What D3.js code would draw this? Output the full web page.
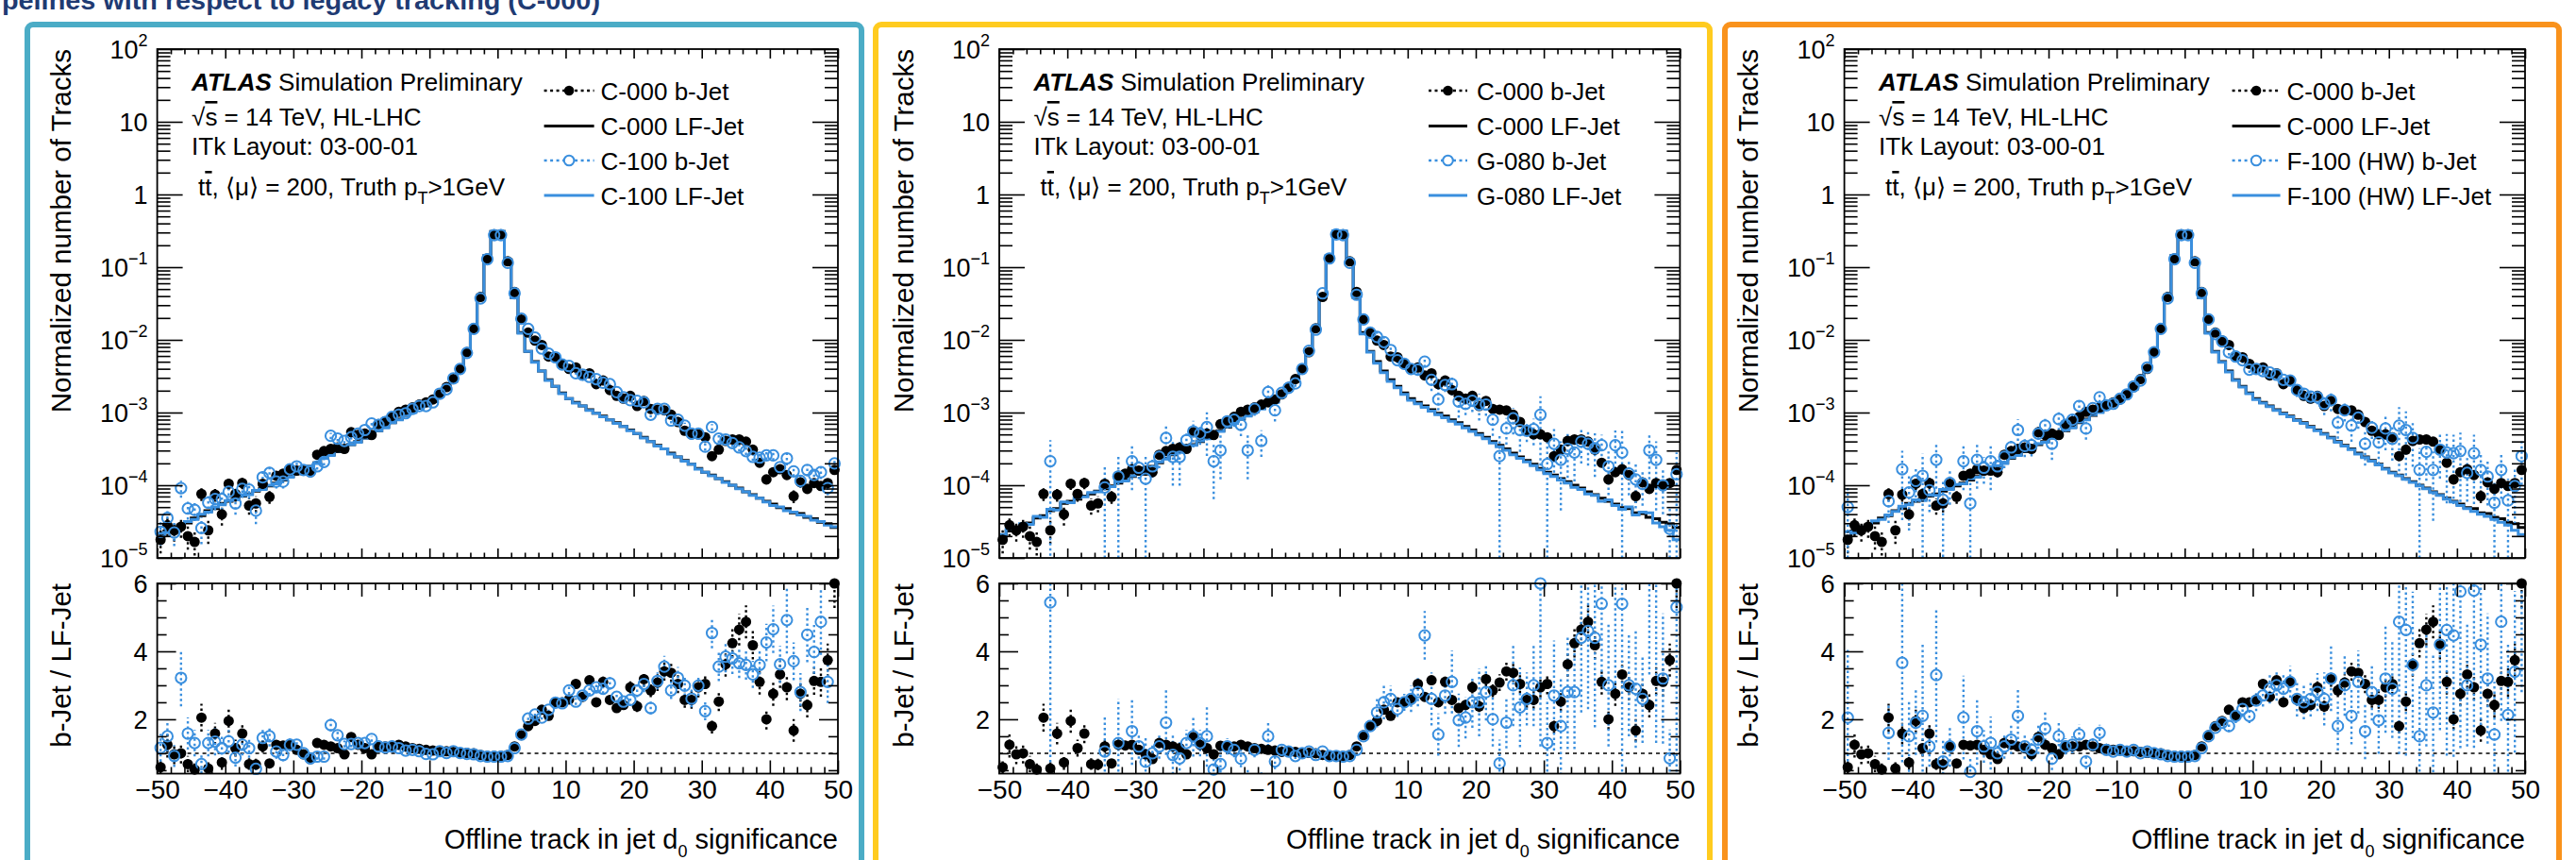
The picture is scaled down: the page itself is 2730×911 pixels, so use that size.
<!DOCTYPE html>
<html><head><meta charset="utf-8">
<script src="https://cdn.jsdelivr.net/npm/d3@7"></script>
<style>
body{margin:0;background:#fff;overflow:hidden;}
text{font-family:"Liberation Sans",Arial,Helvetica,sans-serif;fill:#000;}
</style></head>
<body><svg id="chart" width="2730" height="911"></svg>
<script>
// ---------------- DATA ----------------
const binCentres = d3.range(-49.5, 50, 1);      // 100 bins of width 1, -50..50
const binLowEdges = d3.range(-50, 50, 1);
const xTickValues = [-50,-40,-30,-20,-10,0,10,20,30,40,50];
const upperTickLabels = [
  {v:1e2, base:"10", exp:"2"}, {v:1e1, base:"10", exp:""}, {v:1, base:"1", exp:""},
  {v:1e-1, base:"10", exp:"\u22121"}, {v:1e-2, base:"10", exp:"\u22122"}, {v:1e-3, base:"10", exp:"\u22123"},
  {v:1e-4, base:"10", exp:"\u22124"}, {v:1e-5, base:"10", exp:"\u22125"}];
const ratioTickLabels = [2, 4, 6];
const pipelineNames = ["C-100", "G-080", "F-100 (HW)"];

// log10 of normalized number of tracks
const c000_LF_log10 = [
-4.70,-4.63,-4.61,-4.55,-4.52,-4.45,-4.42,-4.35,-4.32,-4.25,
-4.22,-4.19,-4.15,-4.12,-4.08,-4.05,-4.01,-3.97,-3.93,-3.88,
-3.84,-3.79,-3.74,-3.69,-3.63,-3.58,-3.54,-3.49,-3.44,-3.40,
-3.35,-3.30,-3.25,-3.20,-3.14,-3.09,-3.04,-2.99,-2.94,-2.90,
-2.85,-2.77,-2.68,-2.56,-2.40,-2.17,-1.84,-1.39,-0.84,-0.51,
-0.51,-0.90,-1.42,-1.90,-2.16,-2.30,-2.43,-2.55,-2.64,-2.73,
-2.81,-2.86,-2.91,-2.96,-3.01,-3.05,-3.10,-3.14,-3.19,-3.24,
-3.29,-3.34,-3.40,-3.45,-3.50,-3.56,-3.61,-3.66,-3.71,-3.77,
-3.82,-3.86,-3.91,-3.95,-4.00,-4.04,-4.09,-4.13,-4.18,-4.22,
-4.26,-4.31,-4.32,-4.38,-4.39,-4.44,-4.46,-4.51,-4.53,-4.58];
const c000_b_log10 = [
-4.75,-4.55,-4.62,-4.57,-4.70,-4.78,-4.12,-4.62,-4.13,-4.40,
-3.98,-4.12,-3.97,-4.28,-4.25,-3.98,-4.16,-3.87,-3.84,-3.78,
-3.80,-3.80,-3.82,-3.58,-3.53,-3.50,-3.48,-3.50,-3.27,-3.31,
-3.29,-3.31,-3.16,-3.12,-3.06,-2.99,-2.96,-2.93,-2.89,-2.86,
-2.82,-2.75,-2.65,-2.54,-2.40,-2.17,-1.84,-1.41,-0.88,-0.55,
-0.55,-0.92,-1.34,-1.72,-1.90,-2.01,-2.07,-2.23,-2.24,-2.33,
-2.40,-2.38,-2.49,-2.46,-2.61,-2.56,-2.69,-2.77,-2.81,-2.77,
-2.91,-2.84,-2.95,-2.96,-2.97,-3.03,-3.13,-3.25,-3.30,-3.30,
-3.34,-3.60,-3.51,-3.39,-3.37,-3.37,-3.40,-3.51,-3.69,-3.92,
-3.82,-3.78,-3.86,-4.15,-3.96,-4.05,-3.97,-4.01,-3.97,-3.79];
const c000_ratio = [
0.59,1.25,0.97,1.00,0.68,0.52,2.05,0.55,1.58,0.73,
1.95,1.15,1.58,0.68,0.67,1.20,0.70,1.25,1.23,1.25,
1.10,0.97,0.83,1.30,1.25,1.20,1.15,0.97,1.48,1.25,
1.15,0.97,1.22,1.20,1.20,1.25,1.20,1.15,1.13,1.10,
1.08,1.04,1.06,1.04,1.01,1.01,1.00,0.95,0.92,0.92,
0.92,0.95,1.20,1.53,1.80,1.95,2.28,2.10,2.50,2.50,
2.58,3.04,2.66,3.15,2.50,3.10,2.57,2.33,2.42,2.94,
2.38,3.18,2.85,3.08,3.41,3.37,3.04,2.57,2.57,2.94,
3.04,1.80,2.52,3.62,4.24,4.64,4.87,4.18,3.10,2.00,
2.75,3.32,2.94,1.67,2.75,2.42,3.13,3.10,3.74,6.00];
const c000_relErr = [
0.35,0.30,0.30,0.30,0.35,0.35,0.20,0.35,0.20,0.30,
0.18,0.22,0.18,0.25,0.25,0.15,0.20,0.12,0.12,0.12,
0.10,0.10,0.10,0.08,0.08,0.07,0.07,0.07,0.06,0.06,
0.05,0.05,0.05,0.04,0.04,0.04,0.03,0.03,0.03,0.03,
0.02,0.02,0.02,0.02,0.01,0.01,0.01,0.01,0.01,0.01,
0.01,0.01,0.01,0.02,0.02,0.02,0.03,0.03,0.03,0.03,
0.04,0.04,0.04,0.04,0.05,0.05,0.05,0.06,0.06,0.06,
0.07,0.07,0.07,0.08,0.08,0.08,0.09,0.09,0.10,0.10,
0.10,0.12,0.11,0.10,0.10,0.10,0.10,0.10,0.12,0.15,
0.13,0.12,0.13,0.20,0.14,0.15,0.13,0.14,0.13,0.12];

const c100_LF_log10 = [
-4.66,-4.65,-4.58,-4.56,-4.50,-4.47,-4.40,-4.37,-4.30,-4.27,
-4.21,-4.20,-4.14,-4.13,-4.07,-4.06,-4.00,-3.98,-3.92,-3.89,
-3.83,-3.80,-3.74,-3.70,-3.63,-3.59,-3.53,-3.50,-3.44,-3.41,
-3.35,-3.31,-3.25,-3.21,-3.14,-3.10,-3.04,-3.00,-2.94,-2.91,
-2.85,-2.78,-2.68,-2.57,-2.40,-2.18,-1.84,-1.40,-0.84,-0.51,
-0.51,-0.90,-1.42,-1.91,-2.16,-2.31,-2.43,-2.56,-2.64,-2.74,
-2.81,-2.87,-2.91,-2.97,-3.01,-3.06,-3.10,-3.15,-3.19,-3.25,
-3.29,-3.35,-3.40,-3.46,-3.50,-3.57,-3.61,-3.67,-3.71,-3.78,
-3.82,-3.87,-3.91,-3.96,-4.00,-4.05,-4.09,-4.14,-4.18,-4.23,
-4.28,-4.30,-4.35,-4.37,-4.41,-4.43,-4.48,-4.50,-4.55,-4.57];
const c100_b_log10 = [
-4.64,-4.45,-4.65,-4.04,-4.32,-4.34,-4.59,-4.24,-4.19,-4.19,
-4.09,-4.25,-4.05,-4.06,-4.35,-3.89,-3.83,-3.95,-3.95,-3.78,
-3.74,-3.79,-3.81,-3.74,-3.68,-3.32,-3.36,-3.39,-3.34,-3.29,
-3.24,-3.15,-3.17,-3.13,-3.06,-3.03,-3.01,-2.95,-2.91,-2.91,
-2.86,-2.74,-2.68,-2.53,-2.40,-2.18,-1.85,-1.43,-0.89,-0.56,
-0.56,-0.94,-1.36,-1.71,-1.85,-1.97,-2.12,-2.19,-2.24,-2.34,
-2.36,-2.46,-2.48,-2.51,-2.54,-2.59,-2.61,-2.72,-2.79,-2.83,
-2.84,-2.86,-3.03,-2.95,-2.95,-3.11,-3.10,-3.18,-3.29,-3.29,
-3.47,-3.20,-3.36,-3.37,-3.42,-3.48,-3.53,-3.61,-3.62,-3.59,
-3.59,-3.75,-3.63,-3.81,-3.94,-3.79,-3.86,-3.82,-4.04,-3.70];
const c100_ratio = [
1.16,1.50,0.92,3.22,1.58,1.30,0.68,1.30,1.34,1.15,
1.35,0.87,1.25,1.15,0.54,1.45,1.50,1.05,0.95,1.25,
1.25,1.00,0.85,0.90,0.90,1.83,1.53,1.27,1.27,1.30,
1.30,1.42,1.20,1.17,1.20,1.15,1.08,1.10,1.06,0.98,
0.97,1.06,1.01,1.06,1.01,0.98,0.97,0.92,0.90,0.90,
0.90,0.92,1.15,1.55,2.02,2.14,2.05,2.28,2.49,2.47,
2.85,2.52,2.70,2.85,2.94,2.90,3.06,2.66,2.52,2.57,
2.85,3.04,2.33,3.13,3.55,2.85,3.22,2.99,2.61,2.99,
2.24,4.54,3.55,3.84,3.79,3.65,3.60,3.32,3.60,4.26,
4.65,3.62,4.92,3.71,2.80,4.49,3.98,4.87,3.10,7.50];
const c100_relErr = [
0.35,0.30,0.35,0.26,0.30,0.30,0.40,0.30,0.30,0.30,
0.25,0.30,0.25,0.25,0.35,0.20,0.20,0.20,0.20,0.15,
0.12,0.12,0.12,0.10,0.10,0.10,0.08,0.08,0.07,0.07,
0.06,0.06,0.05,0.05,0.05,0.04,0.04,0.04,0.03,0.03,
0.03,0.02,0.02,0.02,0.02,0.01,0.01,0.01,0.01,0.01,
0.01,0.01,0.01,0.02,0.02,0.02,0.03,0.03,0.03,0.04,
0.04,0.04,0.05,0.05,0.05,0.05,0.06,0.06,0.06,0.07,
0.07,0.08,0.08,0.08,0.09,0.09,0.10,0.10,0.10,0.10,
0.12,0.10,0.12,0.12,0.12,0.12,0.12,0.12,0.12,0.13,
0.15,0.15,0.20,0.15,0.20,0.18,0.20,0.20,0.20,0.15];

const g080_LF_log10 = [
-4.68,-4.60,-4.63,-4.53,-4.54,-4.43,-4.44,-4.33,-4.34,-4.23,
-4.24,-4.17,-4.16,-4.10,-4.09,-4.03,-4.02,-3.95,-3.94,-3.87,
-3.85,-3.78,-3.75,-3.68,-3.64,-3.57,-3.55,-3.48,-3.45,-3.39,
-3.36,-3.29,-3.26,-3.19,-3.15,-3.08,-3.05,-2.98,-2.95,-2.89,
-2.86,-2.76,-2.69,-2.55,-2.41,-2.16,-1.85,-1.38,-0.85,-0.50,
-0.50,-0.91,-1.41,-1.92,-2.17,-2.32,-2.45,-2.57,-2.66,-2.75,
-2.83,-2.88,-2.93,-2.98,-3.03,-3.07,-3.12,-3.16,-3.21,-3.26,
-3.31,-3.36,-3.42,-3.47,-3.52,-3.58,-3.63,-3.68,-3.73,-3.79,
-3.84,-3.88,-3.93,-3.97,-4.03,-4.06,-4.12,-4.14,-4.22,-4.20,
-4.28,-4.33,-4.30,-4.41,-4.37,-4.38,-4.52,-4.57,-4.62,-4.75];
const g080_b_log10 = [
null,null,null,null,null,null,null,-3.67,null,null,
null,null,null,null,null,-4.03,null,-3.88,null,-3.67,
-3.76,-3.91,-3.74,-3.61,-3.35,-3.61,-3.61,-3.38,-3.26,-3.29,
-3.20,-3.67,-3.52,-3.12,-3.10,-3.17,-3.52,-2.95,-3.39,-2.72,
-2.97,-2.73,-2.66,-2.60,-2.40,-2.15,-1.86,-1.36,-0.88,-0.55,
-0.56,-0.94,-1.38,-1.72,-1.90,-1.96,-2.03,-2.14,-2.28,-2.33,
-2.40,-2.41,-2.30,-2.55,-2.82,-2.62,-2.61,-2.85,-2.88,-2.84,
-2.89,-2.89,-3.10,-3.60,-3.22,-3.08,-3.24,-3.25,-3.23,-3.03,
-3.71,-3.43,-3.65,-3.50,-3.55,-3.40,-3.43,-3.49,-3.45,-3.74,
-3.45,-3.55,-3.84,-3.92,-3.98,-3.52,-3.65,-4.00,-4.60,-3.85];
const g080_ratio = [
null,null,null,null,null,null,null,5.44,null,null,
null,null,null,null,null,1.05,null,1.30,null,1.65,
1.20,0.75,1.00,1.20,1.90,0.95,0.85,1.30,1.50,1.30,
1.50,0.52,0.68,1.20,1.10,0.84,0.33,1.10,0.35,1.50,
0.76,1.10,1.05,0.92,1.00,1.05,0.95,1.05,0.92,0.92,
0.90,0.92,1.10,1.50,1.80,2.20,2.50,2.60,2.30,2.50,
2.60,2.80,4.47,2.60,1.55,2.70,3.10,1.97,2.05,2.50,
2.50,2.80,2.00,0.70,1.90,3.00,2.35,2.60,3.00,6.00,
1.30,2.70,1.80,2.80,2.80,4.40,4.60,4.40,5.40,3.00,
6.50,5.40,3.00,2.90,2.60,8.30,6.50,3.20,0.85,5.30];
const g080_relErr = [
0.50,0.50,0.50,0.50,0.60,0.50,0.50,0.95,0.50,0.50,
0.50,0.40,0.50,0.40,0.50,1.00,0.40,1.00,0.40,0.60,
0.30,1.00,0.30,0.30,0.50,0.60,0.60,0.30,0.40,0.30,
0.60,0.70,0.60,0.20,0.20,0.30,0.60,0.20,0.40,0.30,
0.30,0.10,0.10,0.10,0.05,0.03,0.02,0.02,0.01,0.01,
0.01,0.01,0.02,0.03,0.05,0.20,0.20,0.15,0.10,0.10,
0.15,0.15,0.16,0.30,0.40,0.20,0.30,0.40,0.30,0.30,
0.40,0.30,0.40,1.00,0.40,0.40,0.50,0.30,0.40,0.80,
1.00,0.60,0.80,0.60,0.60,0.50,0.50,0.60,0.40,0.60,
0.60,1.00,0.50,0.60,0.50,0.60,0.80,0.60,1.00,1.00];

const f100_LF_log10 = [
-4.64,-4.66,-4.59,-4.57,-4.49,-4.47,-4.41,-4.36,-4.29,-4.27,
-4.20,-4.21,-4.13,-4.14,-4.06,-4.06,-3.99,-3.98,-3.91,-3.89,
-3.83,-3.80,-3.73,-3.70,-3.62,-3.59,-3.53,-3.50,-3.43,-3.41,
-3.34,-3.31,-3.24,-3.21,-3.13,-3.10,-3.03,-3.00,-2.94,-2.91,
-2.85,-2.78,-2.68,-2.57,-2.40,-2.18,-1.84,-1.40,-0.84,-0.51,
-0.51,-0.90,-1.42,-1.91,-2.17,-2.31,-2.44,-2.56,-2.65,-2.74,
-2.82,-2.87,-2.92,-2.97,-3.02,-3.06,-3.11,-3.15,-3.20,-3.25,
-3.30,-3.35,-3.41,-3.46,-3.51,-3.57,-3.62,-3.67,-3.72,-3.78,
-3.83,-3.87,-3.92,-3.96,-4.01,-4.05,-4.10,-4.14,-4.19,-4.23,
-4.28,-4.32,-4.36,-4.40,-4.43,-4.47,-4.51,-4.55,-4.62,-4.68];
const f100_b_log10 = [
-4.30,null,null,null,null,null,-4.22,null,-3.78,-4.10,
-3.94,-3.87,-4.07,-3.65,-4.20,-3.97,null,-3.67,-4.25,-3.65,
-3.76,-3.67,-3.74,-3.61,-3.48,-3.24,-3.46,-3.45,-3.29,-3.18,
-3.43,-3.09,-3.17,-3.10,-2.91,-3.22,-2.94,-2.79,-2.90,-2.88,
-2.81,-2.75,-2.64,-2.56,-2.38,-2.17,-1.85,-1.43,-0.89,-0.56,
-0.56,-0.94,-1.36,-1.72,-1.92,-2.02,-2.17,-2.23,-2.28,-2.41,
-2.40,-2.43,-2.45,-2.48,-2.55,-2.56,-2.69,-2.74,-2.78,-2.79,
-2.88,-2.83,-3.14,-2.97,-3.18,-3.07,-3.43,-3.21,-3.41,-3.22,
-3.36,-3.18,-3.24,-3.35,-3.79,-3.54,-3.79,-3.51,-3.55,-3.56,
-3.53,-3.83,-3.56,-3.79,-3.88,-4.24,-3.79,-4.21,-4.01,-3.60];
const f100_ratio = [
2.05,null,null,null,null,null,1.60,null,3.66,1.50,
1.90,2.10,1.20,3.30,0.76,1.20,null,2.05,0.45,1.65,
1.20,1.30,1.00,1.20,1.40,2.10,1.20,1.10,1.40,1.73,
0.84,1.50,1.20,1.25,1.55,0.76,1.25,1.60,1.10,1.05,
1.10,1.05,1.10,1.00,1.05,1.00,0.97,0.92,0.90,0.90,
0.90,0.92,1.15,1.50,1.75,1.90,1.80,2.10,2.30,2.10,
2.55,2.70,2.90,3.00,2.90,3.10,2.60,2.50,2.60,2.80,
2.60,3.20,1.80,3.00,2.10,3.10,1.65,2.80,1.97,3.20,
2.90,4.87,4.63,3.60,1.50,3.00,2.20,4.20,4.63,4.47,
5.76,3.00,5.79,4.20,3.20,1.55,4.87,2.13,3.40,7.00];
const f100_relErr = [
1.00,0.50,0.50,0.50,0.50,0.60,0.50,0.50,0.80,0.70,
0.50,1.00,0.50,0.60,0.90,0.50,0.90,0.60,1.00,0.60,
0.40,0.60,0.30,0.30,0.30,0.40,0.30,0.30,0.30,0.30,
0.40,0.30,0.20,0.20,0.20,0.30,0.15,0.15,0.10,0.10,
0.08,0.06,0.05,0.04,0.03,0.02,0.02,0.01,0.01,0.01,
0.01,0.01,0.02,0.03,0.05,0.05,0.10,0.10,0.10,0.10,
0.12,0.12,0.15,0.15,0.15,0.15,0.20,0.20,0.20,0.20,
0.30,0.30,0.40,0.30,0.40,0.30,0.50,0.30,0.50,0.50,
0.50,0.80,0.80,0.60,1.00,0.60,0.80,0.60,0.80,0.80,
0.80,0.60,0.80,0.60,0.60,1.00,0.60,1.00,0.70,0.60];

// ---------------- LAYOUT ----------------
const FW = 721.4, U_TOP = 52, U_BOT = 591, L_TOP = 618, L_BOT = 819.5;
const BLUE = "#3a8fde";
const FS = 26, FS_SMALL = 18, FS_TITLE = 29.5, FS_XTITLE = 29, FS_XTICK = 28, FS_YTICK = 27;
const panels = [
  {id:0, color:"#4bacc6", bx:29,   fx:166.6,  legSym:[410,463], legTxt:470,
   lf:c100_LF_log10, b:c100_b_log10, r:c100_ratio, e:c100_relErr},
  {id:1, color:"#ffcb1f", bx:928,  fx:1059,   legSym:[455,496], legTxt:506,
   lf:g080_LF_log10, b:g080_b_log10, r:g080_ratio, e:g080_relErr},
  {id:2, color:"#f9921c", bx:1828, fx:1954.6, legSym:[411,462], legTxt:469,
   lf:f100_LF_log10, b:f100_b_log10, r:f100_ratio, e:f100_relErr}
];

const svg = d3.select("#chart");
const defs = svg.append("defs");

svg.append("text").attr("x", 2).attr("y", 10)
  .attr("font-family", "'Open Sans','Noto Sans',sans-serif").attr("font-weight", 700)
  .attr("font-size", 28).style("fill", "#1f3b73")
  .attr("textLength", 634).attr("lengthAdjust", "spacingAndGlyphs")
  .text("pelines with respect to legacy tracking (C-000)");

function stepPath(logs, x, y) {
  const pts = logs.map((l, i) => [binLowEdges[i], Math.pow(10, l)]);
  pts.push([50, Math.pow(10, logs[logs.length - 1])]);
  return d3.line().x(d => x(d[0])).y(d => y(d[1])).curve(d3.curveStepAfter)(pts);
}

function drawPoints(gClip, gMarks, vals, rel, color, filled, x, y, lo, hi, errLo) {
  const pts = binCentres.map((c, i) => ({c, v: vals[i], e: rel[i]})).filter(d => d.v !== null);
  gClip.selectAll(null).data(pts).join("line")
    .attr("x1", d => x(d.c)).attr("x2", d => x(d.c))
    .attr("y1", d => y(Math.max(d.v * (1 - d.e), errLo)))
    .attr("y2", d => y(d.v * (1 + d.e)))
    .attr("stroke", color).attr("stroke-width", 2.4).attr("stroke-dasharray", "2.5,3");
  gMarks.selectAll(null).data(pts.filter(d => d.v >= lo && d.v <= hi)).join("circle")
    .attr("cx", d => x(d.c)).attr("cy", d => y(d.v))
    .attr("r", filled ? 5.5 : 5.6)
    .attr("fill", filled ? color : "none")
    .attr("stroke", color).attr("stroke-width", filled ? 0 : 2);
}

function tickAxis(g, gen, values, size, tx, ty) {
  const a = g.append("g").attr("transform", `translate(${tx},${ty})`);
  a.call(gen.tickValues(values).tickSize(size).tickFormat(""));
  a.select(".domain").remove();
  a.selectAll("line").attr("stroke", "#000").attr("stroke-width", 1.6);
}

panels.forEach(p => {
  const g = svg.append("g");
  const x = d3.scaleLinear().domain([-50, 50]).range([p.fx, p.fx + FW]);
  const yU = d3.scaleLog().domain([1e-5, 1e2]).range([U_BOT, U_TOP]);
  const yL = d3.scaleLinear().domain([0.4, 6]).range([L_BOT, L_TOP]);

  g.append("rect").attr("x", p.bx).attr("y", 26).attr("width", 884).attr("height", 1000)
    .attr("rx", 6).attr("fill", "none").attr("stroke", p.color).attr("stroke-width", 6);

  defs.append("clipPath").attr("id", "cu" + p.id).append("rect")
    .attr("x", p.fx).attr("y", U_TOP).attr("width", FW).attr("height", U_BOT - U_TOP);
  defs.append("clipPath").attr("id", "cl" + p.id).append("rect")
    .attr("x", p.fx).attr("y", L_TOP).attr("width", FW).attr("height", L_BOT - L_TOP);

  // upper pad
  const gu = g.append("g").attr("clip-path", `url(#cu${p.id})`);
  gu.append("path").attr("d", stepPath(c000_LF_log10, x, yU)).attr("fill", "none")
    .attr("stroke", "#000").attr("stroke-width", 3);
  gu.append("path").attr("d", stepPath(p.lf, x, yU)).attr("fill", "none")
    .attr("stroke", BLUE).attr("stroke-width", 3);
  const gum = g.append("g");
  const toLin = arr => arr.map(v => v === null ? null : Math.pow(10, v));
  drawPoints(gu, gum, toLin(c000_b_log10), c000_relErr, "#000", true, x, yU, 1e-5, 1e2, 1e-7);
  drawPoints(gu, gum, toLin(p.b), p.e, BLUE, false, x, yU, 1e-5, 1e2, 1e-7);

  // lower pad
  const gl = g.append("g").attr("clip-path", `url(#cl${p.id})`);
  gl.append("line").attr("x1", x(-50)).attr("x2", x(50)).attr("y1", yL(1)).attr("y2", yL(1))
    .attr("stroke", "#000").attr("stroke-width", 1.5).attr("stroke-dasharray", "4,4");
  const glm = g.append("g");
  drawPoints(gl, glm, c000_ratio, c000_relErr, "#000", true, x, yL, 0.4, 6.05, -1);
  drawPoints(gl, glm, p.r, p.e, BLUE, false, x, yL, 0.4, 6.05, -1);

  // frames
  [[U_TOP, U_BOT], [L_TOP, L_BOT]].forEach(([t, b]) => {
    g.append("rect").attr("x", p.fx).attr("y", t).attr("width", FW).attr("height", b - t)
      .attr("fill", "none").attr("stroke", "#000").attr("stroke-width", 1.8);
  });

  // x ticks
  const xMinor = d3.range(-50, 51, 2).filter(v => v % 10 !== 0);
  tickAxis(g, d3.axisTop(x), xTickValues, 10, 0, U_BOT);
  tickAxis(g, d3.axisTop(x), xMinor, 5.5, 0, U_BOT);
  tickAxis(g, d3.axisBottom(x), xTickValues, 10, 0, U_TOP);
  tickAxis(g, d3.axisBottom(x), xMinor, 5.5, 0, U_TOP);
  tickAxis(g, d3.axisTop(x), xTickValues, 14, 0, L_BOT);
  tickAxis(g, d3.axisTop(x), xMinor, 7, 0, L_BOT);
  tickAxis(g, d3.axisBottom(x), xTickValues, 14, 0, L_TOP);
  tickAxis(g, d3.axisBottom(x), xMinor, 7, 0, L_TOP);

  // y ticks upper
  const yMajor = upperTickLabels.map(d => d.v);
  const yMinor = [];
  for (let d = -5; d < 2; d++) for (let k = 2; k <= 9; k++) yMinor.push(k * Math.pow(10, d));
  tickAxis(g, d3.axisRight(yU), yMajor, 27, p.fx, 0);
  tickAxis(g, d3.axisRight(yU), yMinor, 14, p.fx, 0);
  tickAxis(g, d3.axisLeft(yU), yMajor, 27, p.fx + FW, 0);
  tickAxis(g, d3.axisLeft(yU), yMinor, 14, p.fx + FW, 0);
  // y ticks lower
  const rMinor = d3.range(0.5, 6.01, 0.5).filter(v => ratioTickLabels.indexOf(v) < 0);
  tickAxis(g, d3.axisRight(yL), ratioTickLabels, 20, p.fx, 0);
  tickAxis(g, d3.axisRight(yL), rMinor, 10, p.fx, 0);
  tickAxis(g, d3.axisLeft(yL), ratioTickLabels, 20, p.fx + FW, 0);
  tickAxis(g, d3.axisLeft(yL), rMinor, 10, p.fx + FW, 0);

  // y tick labels upper
  upperTickLabels.forEach(d => {
    const t = g.append("text").attr("x", p.fx - 10).attr("y", yU(d.v) + 10)
      .attr("text-anchor", "end").attr("font-size", FS_YTICK);
    t.append("tspan").text(d.base);
    if (d.exp) t.append("tspan").attr("font-size", FS_SMALL).attr("dy", -13).text(d.exp);
  });
  ratioTickLabels.forEach(v => {
    g.append("text").attr("x", p.fx - 10).attr("y", yL(v) + 10)
      .attr("text-anchor", "end").attr("font-size", FS_YTICK).text(v);
  });
  // x tick labels
  const xl = g.append("g").attr("transform", `translate(0,${L_BOT})`)
    .call(d3.axisBottom(x).tickValues(xTickValues).tickSize(0).tickPadding(7));
  xl.select(".domain").remove();
  xl.selectAll("text").attr("font-size", FS_XTICK).attr("font-family", "'Liberation Sans',Arial,sans-serif").style("fill", "#000");

  // axis titles
  const xt = g.append("text").attr("x", p.fx + FW).attr("y", 899).attr("text-anchor", "end").attr("font-size", FS_XTITLE);
  xt.append("tspan").text("Offline track in jet d");
  xt.append("tspan").attr("font-size", FS_SMALL).attr("dy", 9).text("0");
  xt.append("tspan").attr("dy", -9).text(" significance");
  g.append("text").attr("transform", `translate(${p.fx - 91.5},${U_TOP}) rotate(-90)`)
    .attr("text-anchor", "end").attr("font-size", FS_TITLE).text("Normalized number of Tracks");
  g.append("text").attr("transform", `translate(${p.fx - 91.5},${L_TOP}) rotate(-90)`)
    .attr("text-anchor", "end").attr("font-size", FS_TITLE).text("b-Jet / LF-Jet");

  // ATLAS label
  const ax = p.fx + 36.5;
  const t1 = g.append("text").attr("x", ax).attr("y", 96).attr("font-size", FS);
  t1.append("tspan").attr("font-weight", "bold").attr("font-style", "italic").text("ATLAS");
  t1.append("tspan").text(" Simulation Preliminary");
  const t2 = g.append("text").attr("x", ax).attr("y", 133).attr("font-size", FS);
  t2.append("tspan").text("\u221A");
  t2.append("tspan").style("text-decoration", "overline").text("s");
  t2.append("tspan").text(" = 14 TeV, HL-LHC");
  g.append("text").attr("x", ax).attr("y", 164).attr("font-size", FS).text("ITk Layout: 03-00-01");
  const t4 = g.append("text").attr("x", ax + 7).attr("y", 207).attr("font-size", FS);
  t4.append("tspan").text("t");
  t4.append("tspan").style("text-decoration", "overline").text("t");
  t4.append("tspan").text(", \u27E8\u03BC\u27E9 = 200, Truth p");
  t4.append("tspan").attr("font-size", FS_SMALL).attr("dy", 9).text("T");
  t4.append("tspan").attr("dy", -9).text(">1GeV");

  // legend
  const name = pipelineNames[p.id];
  const entries = [
    {label:"C-000 b-Jet", color:"#000", kind:"pt", filled:true},
    {label:"C-000 LF-Jet", color:"#000", kind:"line"},
    {label:name + " b-Jet", color:BLUE, kind:"pt", filled:false},
    {label:name + " LF-Jet", color:BLUE, kind:"line"}];
  const rowY = [96, 133.5, 170, 207];
  entries.forEach((en, i) => {
    const y0 = rowY[i], x0 = p.fx + p.legSym[0], x1 = p.fx + p.legSym[1];
    if (en.kind === "line") {
      g.append("line").attr("x1", x0).attr("x2", x1).attr("y1", y0).attr("y2", y0)
        .attr("stroke", en.color).attr("stroke-width", 3);
    } else {
      g.append("line").attr("x1", x0).attr("x2", x1).attr("y1", y0).attr("y2", y0)
        .attr("stroke", en.color).attr("stroke-width", 2.4).attr("stroke-dasharray", "3,3.5");
      g.append("circle").attr("cx", (x0 + x1) / 2).attr("cy", y0).attr("r", 5.3)
        .attr("fill", en.filled ? en.color : "#fff").attr("stroke", en.color).attr("stroke-width", en.filled ? 0 : 2);
    }
    g.append("text").attr("x", p.fx + p.legTxt).attr("y", y0 + 9.5).attr("font-size", FS).text(en.label);
  });
});
</script>
</body></html>
